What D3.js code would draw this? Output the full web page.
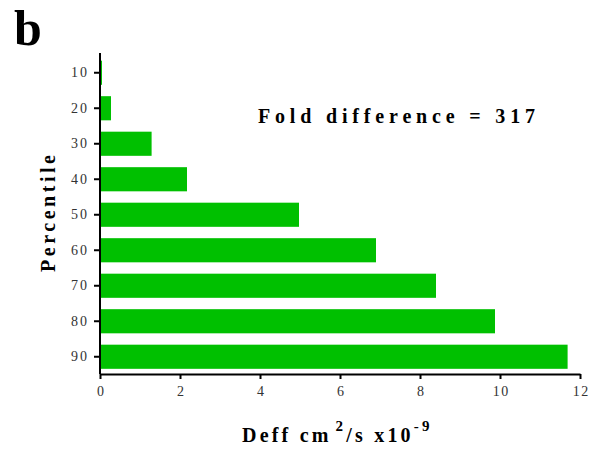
<!DOCTYPE html>
<html><head><meta charset="utf-8">
<script src="https://cdn.jsdelivr.net/npm/d3@7"></script>
<style>body{margin:0;background:#fff}svg{display:block}</style>
</head><body><svg id="c" width="595" height="450" font-family="Liberation Serif"></svg>
<script>
const categories = ["10","20","30","40","50","60","70","80","90"];
const values = [0.05, 0.275, 1.29, 2.175, 4.975, 6.9, 8.4, 9.875, 11.69];
const xTicks = [0,2,4,6,8,10,12];

const F = "Liberation Serif";
const svg = d3.select("#c");
const x = d3.scaleLinear().domain([0,12]).range([100,580]);
const y = d3.scaleBand().domain(categories).range([55,374.5]).paddingInner(0.32).paddingOuter(0.16);

svg.append("g").selectAll("rect").data(values).join("rect")
  .attr("x", x(0)).attr("y", (d,i)=>y(categories[i]))
  .attr("width", d=>x(d)-x(0)).attr("height", y.bandwidth())
  .attr("fill","#00c000");

const xa = svg.append("g").attr("transform","translate(0,374)")
  .call(d3.axisBottom(x).tickValues(xTicks).tickSize(5).tickSizeOuter(0).tickPadding(7));
const ya = svg.append("g").attr("transform","translate(100,0)")
  .call(d3.axisLeft(y).tickSize(6).tickSizeOuter(0).tickPadding(7));
ya.select(".domain").attr("d","M0,53V374");
[xa,ya].forEach(a=>{
  a.attr("font-family",F).attr("font-size",14);
  a.select(".domain").attr("stroke","#000").attr("stroke-width",2);
  a.selectAll(".tick line").attr("stroke","#000").attr("stroke-width",2);
  a.selectAll(".tick text").attr("font-family",F).attr("font-size",14).attr("fill","#333");
});
xa.selectAll(".tick text").attr("letter-spacing","1.5px").attr("dx","0.75px");
ya.selectAll(".tick text").attr("letter-spacing","2px").attr("dx","2px");

svg.append("text").attr("x",14).attr("y",45).attr("font-family",F).attr("font-size",50).attr("font-weight","bold").text("b");

svg.append("text").attr("x",258).attr("y",123).attr("font-family",F).attr("font-size",20).attr("font-weight","bold")
  .attr("textLength",277).attr("lengthAdjust","spacing").text("Fold difference = 317");

svg.append("text").attr("transform","translate(55,213.5) rotate(-90)").attr("text-anchor","middle")
  .attr("font-family",F).attr("font-size",20).attr("font-weight","bold")
  .attr("textLength",117).attr("lengthAdjust","spacing").text("Percentile");

const xt = svg.append("text").attr("x",242).attr("y",442).attr("font-family",F).attr("font-size",20).attr("font-weight","bold").attr("letter-spacing","3.2px");
xt.append("tspan").text("Deff cm");
xt.append("tspan").attr("dy",-11).attr("dx",4).attr("font-size",15).text("2");
xt.append("tspan").attr("dy",11).text("/s x10");
xt.append("tspan").attr("dy",-11).attr("font-size",15).text("-9");
</script></body></html>
